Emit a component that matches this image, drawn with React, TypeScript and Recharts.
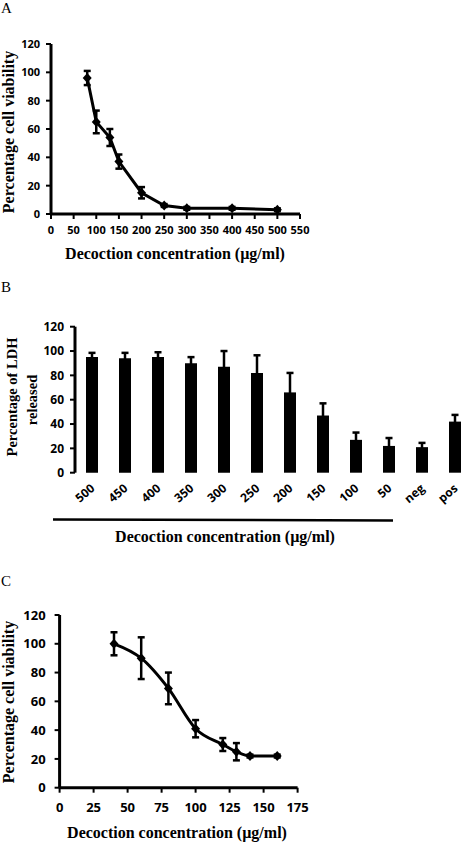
import React from "react";
import { LineChart, Line, BarChart, Bar, XAxis, YAxis, ErrorBar } from "recharts";

// panel A: viability vs decoction concentration
const concA = [80, 100, 130, 150, 200, 250, 300, 400, 500];
const viabA = [96, 65, 54, 37, 15, 6, 4, 4, 3];
const errA = [5, 8, 6, 5, 4, 1, 1, 1, 1];
const xTicksA = [0, 50, 100, 150, 200, 250, 300, 350, 400, 450, 500, 550];

// panel B: LDH release
const catB = ["500", "450", "400", "350", "300", "250", "200", "150", "100", "50", "neg", "pos"];
const ldhB = [95, 94, 95, 90, 87, 82, 66, 47, 27, 22, 21, 42];
const errB = [3.5, 4.5, 4, 5, 13, 14.5, 16, 10, 6, 6.5, 3.5, 5.5];
const bandTicksB = [0, 1, 2, 3, 4, 5, 6, 7, 8, 9, 10, 11, 12];

// panel C: viability, lower range
const concC = [40, 60, 80, 100, 120, 130, 140, 160];
const viabC = [100, 90, 69, 41, 30, 25, 22, 22];
const errC = [8, 14.5, 11, 6, 4.5, 6, 1, 1];
const xTicksC = [0, 25, 50, 75, 100, 125, 150, 175];

const yTicks = [0, 20, 40, 60, 80, 100, 120];

const dataA = concA.map((x, i) => ({ x, y: viabA[i], err: errA[i] }));
const dataB = catB.map((name, i) => ({ name, v: ldhB[i], err: errB[i] }));
const dataC = concC.map((x, i) => ({ x, y: viabC[i], err: errC[i] }));

const sans = "'Open Sans', 'DejaVu Sans', sans-serif";
const serif = "'Liberation Serif', 'Times New Roman', serif";
const axisLine = { stroke: "#000", strokeWidth: 3 };
const tickLine = { stroke: "#000", strokeWidth: 2 };
const tickFont = (size: number) => ({ fontFamily: sans, fontWeight: 700, fontSize: size, fill: "#000" });

function Diamond(props: any) {
  const { cx, cy, index } = props;
  if (cx == null || cy == null) return <g key={`d${index}`} />;
  return (
    <path
      key={`d${index}`}
      d={`M${cx},${cy - 5} L${cx + 4.5},${cy} L${cx},${cy + 5} L${cx - 4.5},${cy} Z`}
      fill="#000"
    />
  );
}

function SlantTick(props: any) {
  const { x, y, payload } = props;
  return (
    <g transform={`translate(${x + 4},${y + 10})`}>
      <text textAnchor="end" transform="rotate(-40)" style={tickFont(12)}>
        {payload.value}
      </text>
    </g>
  );
}

const titleStyle: React.CSSProperties = { fontFamily: serif, fontWeight: 700, fontSize: 16, fill: "#000" };
const titleSmall: React.CSSProperties = { ...titleStyle, fontSize: 14.5 };
const letterStyle: React.CSSProperties = { fontFamily: serif, fontSize: 15, fill: "#000" };

export default function App() {
  return (
    <div style={{ position: "absolute", left: 0, top: 0, width: 473, height: 843, background: "#fff", overflow: "hidden" }}>
      <div style={{ position: "absolute", left: 0, top: 0 }}>
        <LineChart width={473} height={280} data={dataA} margin={{ top: 44, right: 173, bottom: 46, left: 16 }}>
          <XAxis
            dataKey="x"
            type="number"
            domain={[0, 550]}
            ticks={xTicksA}
            interval={0}
            height={20}
            axisLine={axisLine}
            tickLine={tickLine}
            tickSize={5}
            tickMargin={7}
            tick={tickFont(11)}
          />
          <YAxis
            type="number"
            domain={[0, 120]}
            ticks={yTicks}
            interval={0}
            width={35}
            axisLine={axisLine}
            tickLine={tickLine}
            tickSize={5}
            tickMargin={6}
            tick={tickFont(11)}
          />
          <Line dataKey="y" type="linear" stroke="#000" strokeWidth={3} dot={Diamond} activeDot={false} isAnimationActive={false}>
            <ErrorBar dataKey="err" width={3.5} strokeWidth={2.5} stroke="#000" direction="y" isAnimationActive={false} />
          </Line>
        </LineChart>
      </div>

      <div style={{ position: "absolute", left: 0, top: 280 }}>
        <BarChart width={473} height={280} data={dataB} margin={{ top: 46.7, right: 2, bottom: 47.3, left: 35 }}>
          <XAxis
            xAxisId="band"
            type="number"
            domain={[0, 12]}
            ticks={bandTicksB}
            interval={0}
            height={0}
            tick={false}
            axisLine={axisLine}
            tickLine={tickLine}
            tickSize={5}
          />
          <XAxis
            xAxisId="cat"
            dataKey="name"
            interval={0}
            height={40}
            axisLine={false}
            tickLine={false}
            tickSize={5}
            tick={<SlantTick />}
          />
          <YAxis
            type="number"
            domain={[0, 120]}
            ticks={yTicks}
            interval={0}
            width={40}
            axisLine={axisLine}
            tickLine={tickLine}
            tickSize={5}
            tickMargin={6}
            tick={tickFont(12)}
          />
          <Bar dataKey="v" xAxisId="cat" fill="#000" barSize={12} isAnimationActive={false}>
            <ErrorBar dataKey="err" width={3.5} strokeWidth={2.5} stroke="#000" direction="y" isAnimationActive={false} />
          </Bar>
        </BarChart>
      </div>

      <div style={{ position: "absolute", left: 0, top: 560 }}>
        <LineChart width={473} height={283} data={dataC} margin={{ top: 55, right: 175.4, bottom: 30.3, left: 19.6 }}>
          <XAxis
            dataKey="x"
            type="number"
            domain={[0, 175]}
            ticks={xTicksC}
            interval={0}
            height={25}
            axisLine={axisLine}
            tickLine={tickLine}
            tickSize={5}
            tickMargin={10}
            tick={tickFont(13)}
          />
          <YAxis
            type="number"
            domain={[0, 120]}
            ticks={yTicks}
            interval={0}
            width={40}
            axisLine={axisLine}
            tickLine={tickLine}
            tickSize={5}
            tickMargin={9}
            tick={tickFont(13)}
          />
          <Line dataKey="y" type="monotone" stroke="#000" strokeWidth={3} dot={Diamond} activeDot={false} isAnimationActive={false}>
            <ErrorBar dataKey="err" width={3.5} strokeWidth={2.5} stroke="#000" direction="y" isAnimationActive={false} />
          </Line>
        </LineChart>
      </div>

      <svg width={473} height={843} style={{ position: "absolute", left: 0, top: 0, pointerEvents: "none" }}>
        <text x={1} y={13} style={letterStyle}>A</text>
        <text x={1} y={292} style={letterStyle}>B</text>
        <text x={1} y={586} style={letterStyle}>C</text>

        <text x={13.5} y={132} textAnchor="middle" transform="rotate(-90, 13.5, 132)" style={titleStyle}>
          Percentage cell viability
        </text>
        <text x={175} y={259} textAnchor="middle" style={titleStyle}>
          Decoction concentration (µg/ml)
        </text>

        <text x={17} y={397} textAnchor="middle" transform="rotate(-90, 17, 397)" style={titleSmall}>
          Percentage of LDH
        </text>
        <text x={37} y={400} textAnchor="middle" transform="rotate(-90, 37, 400)" style={titleSmall}>
          released
        </text>
        <line x1={53} y1={519.5} x2={393} y2={520.5} stroke="#000" strokeWidth={2.5} />
        <text x={225} y={542} textAnchor="middle" style={titleStyle}>
          Decoction concentration (µg/ml)
        </text>

        <text x={14} y={702} textAnchor="middle" transform="rotate(-90, 14, 702)" style={titleStyle}>
          Percentage cell viability
        </text>
        <text x={177} y={838} textAnchor="middle" style={titleStyle}>
          Decoction concentration (µg/ml)
        </text>
      </svg>
    </div>
  );
}
